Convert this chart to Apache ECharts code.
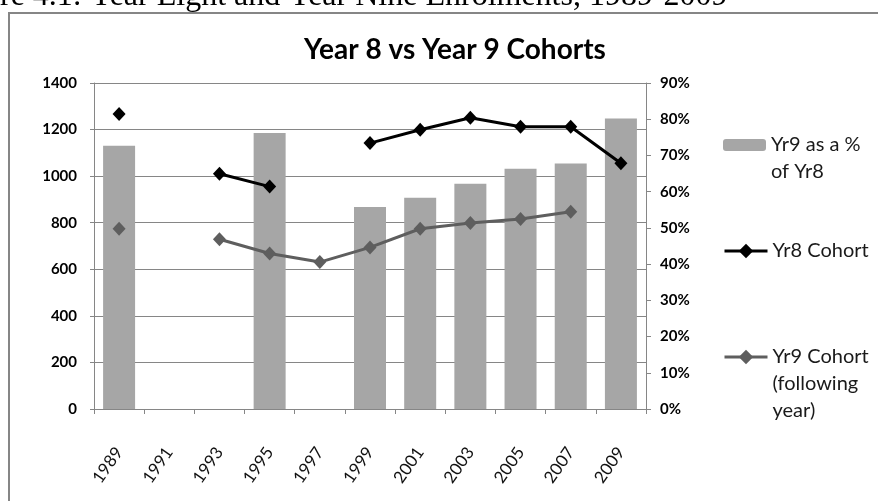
<!DOCTYPE html>
<html>
<head>
<meta charset="utf-8">
<script src="https://cdn.jsdelivr.net/npm/echarts@6/dist/echarts.min.js"></script>
<style>
  html, body { margin: 0; padding: 0; background: #fff; }
  #chart { width: 878px; height: 501px; }
</style>
</head>
<body>
<div id="chart"></div>
<script>
const years = ['1989', '1991', '1993', '1995', '1997', '1999', '2001', '2003', '2005', '2007', '2009']
// Yr9 as a % of Yr8 (right axis)
const pctYr9 = [72.7, null, null, 76.2, null, 55.8, 58.3, 62.2, 66.3, 67.8, 80.2]
// cohort sizes (left axis)
const yr8Cohort = [1267, null, 1010, 955, null, 1142, 1199, 1251, 1212, 1212, 1055]
const yr9Cohort = [774, null, 729, 668, 631, 694, 774, 799, 816, 847, null]
const leftTicks = { min: 0, max: 1400, interval: 200 }
const rightTicks = { min: 0, max: 90, interval: 10 }

const font = 'Lato, "DejaVu Sans", sans-serif'
const gray = '#868686'
const legendText = {
  fontFamily: font,
  fontSize: 20,
  color: '#1a1a1a',
  lineHeight: 27,
}

const chart = echarts.init(document.getElementById('chart'), null, { renderer: 'canvas' })

// leading blank lines keep the first text line level with the legend icon
const wrapLegend = lines => '\n'.repeat(lines.length - 1) + lines.join('\n')

const option = {
  animation: false,
  backgroundColor: '#fff',
  title: {
    text: 'Year 8 vs Year 9 Cohorts',
    left: 450,
    top: 31,
    textAlign: 'center',
    textStyle: { fontFamily: font, fontSize: 28, fontWeight: 'bold', color: '#000' },
  },
  graphic: [
    {
      type: 'rect',
      shape: { x: 9, y: 13, width: 900, height: 600 },
      style: { fill: 'none', stroke: gray, lineWidth: 2 },
      silent: true,
    },
    {
      type: 'text',
      x: 0,
      y: -3,
      style: {
        text: 're 4.1: Year Eight and Year Nine Enrolments, 1989-2009',
        font: '32px "Liberation Serif", "Times New Roman", serif',
        fill: '#000',
        verticalAlign: 'middle',
        align: 'left',
      },
      silent: true,
    },
  ],
  legend: [
    {
      data: ['Yr9 as a % of Yr8'],
      left: 723,
      top: 104.5,
      padding: 0,
      itemWidth: 43,
      itemHeight: 12,
      formatter: () => wrapLegend(['Yr9 as a %', 'of Yr8']),
      textStyle: legendText,
    },
    {
      data: ['Yr8 Cohort'],
      left: 723,
      top: 237.5,
      padding: 0,
      itemWidth: 43,
      itemHeight: 18,
      lineStyle: { width: 3 },
      textStyle: legendText,
    },
    {
      data: ['Yr9 Cohort (following year)'],
      left: 723,
      top: 289.5,
      padding: 0,
      itemWidth: 43,
      itemHeight: 18,
      lineStyle: { width: 3 },
      formatter: () => wrapLegend(['Yr9 Cohort', '(following', 'year)']),
      textStyle: legendText,
    },
  ],
  grid: {
    left: 94,
    right: 232,
    top: 83,
    bottom: 92,
    containLabel: false,
  },
  xAxis: {
    type: 'category',
    data: years,
    boundaryGap: true,
    axisLine: { lineStyle: { color: gray, width: 1 } },
    axisTick: { show: true, length: 5, lineStyle: { color: gray } },
    axisLabel: {
      interval: 0,
      rotate: 55,
      margin: 40,
      fontFamily: font,
      fontSize: 17,
      color: '#111',
    },
  },
  yAxis: [
    {
      type: 'value',
      min: leftTicks.min,
      max: leftTicks.max,
      interval: leftTicks.interval,
      axisLine: { show: true, lineStyle: { color: gray } },
      axisTick: { show: true, length: 4, lineStyle: { color: gray } },
      splitLine: { show: true, lineStyle: { color: gray, width: 1 } },
      axisLabel: {
        formatter: v => String(v),
        margin: 17,
        fontFamily: font,
        fontSize: 15,
        fontWeight: 'bold',
        color: '#000',
      },
    },
    {
      type: 'value',
      position: 'right',
      min: rightTicks.min,
      max: rightTicks.max,
      interval: rightTicks.interval,
      axisLine: { show: true, lineStyle: { color: gray } },
      axisTick: { show: true, length: 5, lineStyle: { color: gray } },
      splitLine: { show: false },
      axisLabel: {
        formatter: '{value}%',
        margin: 14,
        fontFamily: font,
        fontSize: 15,
        fontWeight: 'bold',
        color: '#000',
      },
    },
  ],
  series: [
    {
      name: 'Yr9 as a % of Yr8',
      type: 'bar',
      yAxisIndex: 1,
      data: pctYr9,
      barWidth: 32,
      itemStyle: { color: '#a6a6a6' },
      z: 1,
    },
    {
      name: 'Yr8 Cohort',
      type: 'line',
      yAxisIndex: 0,
      data: yr8Cohort,
      connectNulls: false,
      symbol: 'diamond',
      symbolSize: [13, 14],
      showAllSymbol: true,
      lineStyle: { color: '#000', width: 3 },
      itemStyle: { color: '#000' },
      z: 3,
    },
    {
      name: 'Yr9 Cohort (following year)',
      type: 'line',
      yAxisIndex: 0,
      data: yr9Cohort,
      connectNulls: false,
      symbol: 'diamond',
      symbolSize: [13, 14],
      showAllSymbol: true,
      lineStyle: { color: '#5e5e5e', width: 3 },
      itemStyle: { color: '#5e5e5e' },
      z: 2,
    },
  ],
}

chart.setOption(option)
</script>
</body>
</html>
